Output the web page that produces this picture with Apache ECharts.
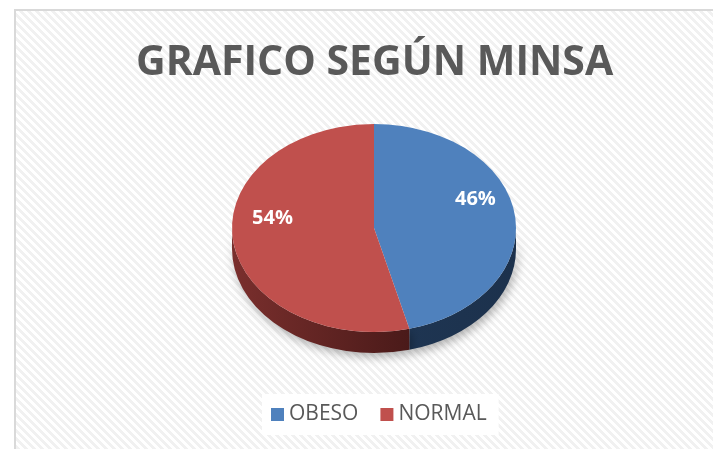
<!DOCTYPE html>
<html>
<head>
<meta charset="utf-8">
<title>GRAFICO SEGÚN MINSA</title>
<script src="https://cdn.jsdelivr.net/npm/echarts@6/dist/echarts.min.js"></script>
<style>
  html, body { margin: 0; padding: 0; background: #fff; }
  #main { width: 713px; height: 449px; }
</style>
</head>
<body>
<div id="main"></div>
<script>
  // datos
  var categories = ['OBESO', 'NORMAL'];
  var values = [46, 54];

  var topColors = ['#4F81BD', '#C0504D'];
  var sideColors = [['#1e3552', '#1c314c'], ['#7a2f2d', '#4a1a19']];

  // pie "3d" (ellipse)
  var cx = 374, cy = 228, rx = 142, ry = 104, depth = 21;

  var total = values.reduce(function (a, b) { return a + b; }, 0);

  function pt(a, dy) {
    return [cx + rx * Math.sin(a), cy - ry * Math.cos(a) + (dy || 0)];
  }

  function renderSlice(params, api) {
    var i = params.seriesIndex;
    var before = 0;
    for (var j = 0; j < i; j++) before += values[j];
    var a1 = before / total * Math.PI * 2;
    var a2 = (before + api.value(0)) / total * Math.PI * 2;
    var children = [];

    // side wall, only the front half is visible
    var s = Math.max(a1, Math.PI / 2), e = Math.min(a2, Math.PI * 1.5);
    if (e > s) {
      var p1 = pt(s), p2 = pt(e), p3 = pt(e, depth), p4 = pt(s, depth);
      children.push({
        type: 'path',
        shape: {
          pathData: 'M' + p1[0] + ' ' + p1[1] +
            ' A' + rx + ' ' + ry + ' 0 0 1 ' + p2[0] + ' ' + p2[1] +
            ' L' + p3[0] + ' ' + p3[1] +
            ' A' + rx + ' ' + ry + ' 0 0 0 ' + p4[0] + ' ' + p4[1] + ' Z'
        },
        style: {
          fill: new echarts.graphic.LinearGradient(0, 0, 1, 0, [
            { offset: 0, color: sideColors[i][0] },
            { offset: 1, color: sideColors[i][1] }
          ]),
          shadowBlur: 10,
          shadowOffsetX: 2,
          shadowOffsetY: 4,
          shadowColor: 'rgba(0,0,0,0.3)'
        }
      });
    }

    // top face
    var t1 = pt(a1), t2 = pt(a2);
    var large = (a2 - a1) > Math.PI ? 1 : 0;
    children.push({
      type: 'path',
      shape: {
        pathData: 'M' + cx + ' ' + cy + ' L' + t1[0] + ' ' + t1[1] +
          ' A' + rx + ' ' + ry + ' 0 ' + large + ' 1 ' + t2[0] + ' ' + t2[1] + ' Z'
      },
      style: { fill: topColors[i] }
    });

    // porcentaje
    var mid = (a1 + a2) / 2;
    var lp = [cx + rx * 0.72 * Math.sin(mid), cy - ry * 0.72 * Math.cos(mid) - 19];
    children.push({
      type: 'text',
      x: lp[0],
      y: lp[1],
      style: {
        text: Math.round(api.value(0) / total * 100) + '%',
        fill: '#fff',
        font: 'bold 20px "Open Sans"',
        align: 'center',
        verticalAlign: 'middle'
      }
    });

    return { type: 'group', children: children };
  }

  // fondo rayado
  var tile = document.createElement('canvas');
  tile.width = 8; tile.height = 8;
  var ctx = tile.getContext('2d');
  for (var y = 0; y < 8; y++) {
    for (var x = 0; x < 8; x++) {
      ctx.fillStyle = ((x - y + 16) % 8) < 4 ? '#f1f1f1' : '#ffffff';
      ctx.fillRect(x, y, 1, 1);
    }
  }

  var series = categories.map(function (name, i) {
    return {
      type: 'custom',
      name: name,
      coordinateSystem: 'none',
      itemStyle: { color: topColors[i] },
      data: [[values[i]]],
      renderItem: renderSlice
    };
  });

  var chart = echarts.init(document.getElementById('main'));
  chart.setOption({
    animation: false,
    backgroundColor: '#fff',
    graphic: [{
      type: 'rect',
      z: -10,
      silent: true,
      shape: { x: 15, y: 10, width: 720, height: 460 },
      style: {
        fill: { image: tile, repeat: 'repeat' },
        stroke: '#d9d9d9',
        lineWidth: 2
      }
    }],
    title: {
      text: 'GRAFICO SEGÚN MINSA',
      left: 131,
      top: 38,
      textStyle: {
        fontFamily: 'Open Sans',
        fontWeight: 'bold',
        fontSize: 41,
        color: '#595959'
      }
    },
    legend: {
      data: categories,
      left: 262,
      top: 394,
      icon: 'rect',
      itemWidth: 13,
      itemHeight: 13,
      itemGap: 22,
      padding: [10, 12, 10, 9],
      backgroundColor: '#fff',
      textStyle: {
        fontFamily: 'Open Sans',
        fontSize: 21,
        color: '#595959'
      }
    },
    series: series
  });
</script>
</body>
</html>
